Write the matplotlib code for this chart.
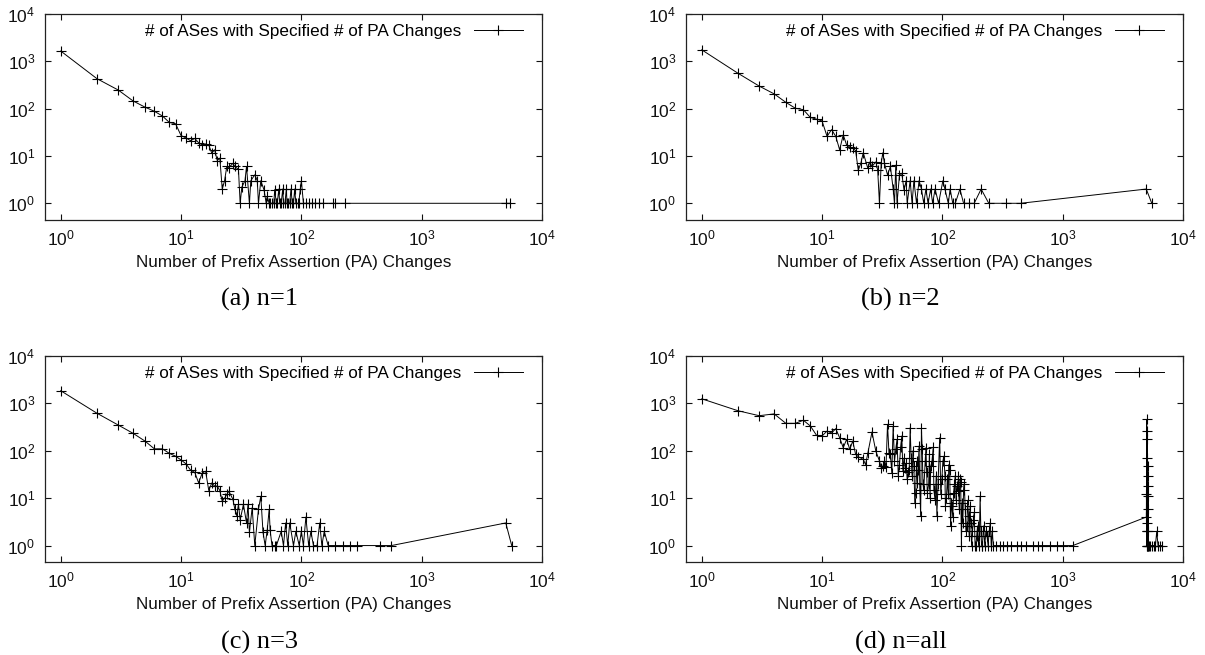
import matplotlib
matplotlib.use('Agg')
import matplotlib.pyplot as plt
from matplotlib.ticker import LogLocator, NullLocator

plt.rcParams['font.family'] = ['Liberation Sans', 'DejaVu Sans']

# ── datos (x = nº de cambios PA, y = nº de ASes) ───────────────────────────────
xa = [1, 2, 3, 4, 5, 6, 7, 8, 9, 10, 11, 12, 13, 14, 15, 16, 17, 18, 19, 20,
      21, 22, 23, 24, 25, 27, 28, 30, 31, 32, 34, 35, 37, 38, 41, 43, 44, 46, 49, 51,
      52, 54, 55, 57, 59, 60, 62, 63, 65, 66, 68, 70, 71, 73, 75, 76, 78, 80, 82, 84,
      86, 88, 90, 93, 95, 98, 100, 104, 109, 115, 122, 130, 141, 152, 182, 191, 231,
      5000, 5400]
ya = [1650, 430, 248, 145, 108, 88, 70, 51, 48, 27, 24, 21, 23.5, 19, 17, 18, 17, 11.5, 13.5, 8,
      9, 2, 3, 6, 5.7, 7, 6, 5.2, 1, 2.2, 3, 6, 1, 3, 4, 3, 1, 3, 1.9, 1,
      1.4, 1, 1, 1, 1, 1.9, 1, 1, 2, 1, 1, 2, 1, 1, 2, 1, 1, 1, 2, 1,
      1, 2, 1, 1, 1, 2, 3, 1, 1, 1, 1, 1, 1, 1, 1, 1, 1,
      1, 1]

xb = [1, 2, 3, 4, 5, 6, 7, 8, 9, 10, 11, 12, 13, 14, 15, 16, 17, 18, 19, 20,
      21, 22, 24, 25, 26, 28, 29, 30, 31, 32, 33, 35, 37, 39, 40, 41, 42, 44, 46, 48,
      50, 51, 54, 56, 58, 61, 64, 67, 70, 73, 76, 80, 83, 87, 93, 101, 105, 112, 116, 122,
      128, 140, 150, 168, 184, 210, 243, 336, 447, 4950, 5500]
yb = [1750, 560, 300, 205, 136, 102, 95, 65, 60, 55, 26, 36, 26, 13.5, 28, 17, 15.5, 14.5, 13, 5,
      7, 11.7, 5.5, 7.5, 6, 7.5, 5, 1, 7, 11.7, 7, 4, 6, 2, 1, 6.4, 1, 4, 4.3, 1.9,
      3, 1, 3, 1, 3, 1, 3, 2, 1, 2, 1, 2, 1, 2, 1, 3, 2, 1, 2, 1,
      1, 2, 1, 1, 1, 2, 1, 1, 1, 2, 1]

xc = [1, 2, 3, 4, 5, 6, 7, 8, 9, 10, 11, 12, 13, 14, 15, 16, 17, 18, 19, 20,
      21, 22, 23, 24, 25, 27, 28, 29, 30, 31, 33, 35, 36, 37, 39, 41, 44, 46, 48, 50,
      52, 54, 55, 57, 60, 62, 68, 71, 74, 77, 80, 86, 90, 96, 100, 104, 109, 115, 120, 126,
      135, 142, 148, 155, 167, 190, 220, 255, 290, 450, 560, 5000, 5600]
yc = [1850, 620, 350, 233, 161, 110, 110, 88, 77, 64, 53, 39, 35, 21, 34, 37, 14.5, 21, 18, 18,
      14.5, 8.6, 10, 12, 14, 9.4, 5.8, 4.3, 7.4, 3.5, 7.4, 3, 7.4, 1.9, 6.3, 1, 5.8, 11, 1.9, 1,
      2.1, 5.8, 2.1, 1, 1, 1, 2, 1, 3, 1, 3, 1, 2, 1, 2, 1, 4, 1, 2, 1,
      1, 3, 1, 2, 1, 1, 1, 1, 1, 1, 1, 3, 1]

xd = [1, 2, 3, 4, 5, 6, 7, 8, 9, 10, 11, 12, 13, 14, 15, 16, 17, 18, 19, 20,
      22, 23, 24, 26, 28, 30, 31, 32, 33, 35, 37, 38, 39, 41, 42, 44, 46, 47, 49, 51,
      54, 55, 58, 60, 62, 64, 66, 68, 70, 73, 75, 78, 80, 85, 90, 95, 99, 103, 106, 110,
      113, 117, 120, 124, 128, 132, 136, 140, 144, 150, 155, 160, 165, 170, 175, 181, 187, 193, 206, 212,
      220, 235, 250, 265, 280, 302, 320, 345, 370, 415, 450, 500, 571, 620, 670, 786, 893, 1000, 1214,
      4960, 4970, 4980, 4990, 5000, 5010, 5020, 5030, 5040, 5050, 5060, 5070, 5080, 5090, 5100, 5110, 5120, 5140, 5160, 5180,
      5300, 5500, 5700, 5900, 6050, 6200, 6400, 6660]
yd = [1250, 700, 550, 600, 380, 380, 440, 333, 212, 205, 261, 237, 293, 189, 116, 174, 107, 161, 84, 75,
      66, 51, 88, 249, 98, 61, 44, 47, 61, 362, 84, 34, 333, 107, 174, 51, 205, 37, 44, 25,
      307, 71, 47, 13, 21, 126, 4.2, 107, 15, 116, 13, 84, 47, 15, 4.2, 189, 25, 77, 6.8, 25,
      51, 2.6, 6.8, 13, 30, 18, 29, 25, 1, 15, 5.8, 2.6, 4.2, 6.8, 1, 3.5, 1, 1.6, 11, 1,
      2.6, 1.6, 3, 1, 1, 1, 1, 1, 1, 1, 1, 1, 1, 1, 1, 1, 1, 1, 1,
      4, 12, 2, 460, 1, 260, 3, 70, 1, 175, 2, 30, 1, 48, 6, 18, 1, 11, 2, 1,
      1, 1, 1, 1, 2, 1, 1, 1]
# puntos extra de la zona densa de (d)
xd_extra = [34, 36, 40, 43, 45, 48, 50, 52, 53, 56, 57, 59, 61, 63, 65, 67, 69, 72, 74, 77,
            79, 82, 84, 87, 89, 92, 97, 101, 105, 108, 112, 115, 119, 122, 126, 130, 134, 138, 142,
            146, 148, 152, 157, 162, 167, 172, 178, 184, 190, 196, 200, 203, 209, 215, 225, 230,
            240, 245, 255, 260]
yd_extra = [45, 90, 60, 30, 120, 70, 55, 35, 40, 30, 100, 8, 60, 40, 15, 300, 20, 60, 35, 20,
            10, 60, 120, 9, 30, 20, 12, 60, 30, 10, 12, 40, 8, 4, 20, 9, 14, 6, 22,
            8, 3, 20, 2, 9, 1.6, 3, 2, 5, 1, 2.6, 1, 1.6, 2, 1, 1, 2,
            1, 2, 1, 2]

captions = ['(a) n=1', '(b) n=2', '(c) n=3', '(d) n=all']
leyenda = '# of ASes with Specified # of PA Changes'
xlabel = 'Number of Prefix Assertion (PA) Changes'

pares_d = sorted(zip(xd + xd_extra, yd + yd_extra))
xd_all = [p[0] for p in pares_d]
yd_all = [p[1] for p in pares_d]

# ── figura ─────────────────────────────────────────────────────────────────────
W, H = 1205, 655
fig = plt.figure(figsize=(W / 100, H / 100), dpi=100)

# (x0, y_top, x1, y_bottom) en píxeles
cajas = [(45, 14, 542, 219.7), (686, 14, 1183, 219.7),
         (45, 356, 542, 562), (686, 356, 1183, 562)]
series = [(xa, ya), (xb, yb), (xc, yc), (xd_all, yd_all)]

for (x, y), (x0, y0, x1, y1), cap in zip(series, cajas, captions):
    ax = fig.add_axes([x0 / W, 1 - y1 / H, (x1 - x0) / W, (y1 - y0) / H])
    ax.plot(x, y, color='k', lw=0.7, marker='+', ms=6.5, mew=0.8, label=leyenda)
    ax.set_xscale('log')
    ax.set_yscale('log')
    ax.set_xlim(0.74, 1e4)
    ax.set_ylim(0.45, 1e4)
    for eje in (ax.xaxis, ax.yaxis):
        eje.set_major_locator(LogLocator(base=10, numticks=10))
        eje.set_minor_locator(NullLocator())
    ax.tick_params(which='major', direction='in', length=4.5, width=0.8,
                   top=True, right=True, labelsize=12.5, colors='#111111')
    ax.tick_params(axis='x', pad=6)
    ax.tick_params(axis='y', pad=7)
    for s in ax.spines.values():
        s.set_linewidth(0.9)
        s.set_color('#222222')
    ax.set_xlabel(xlabel, fontsize=12.3, labelpad=5, color='#111111')
    ax.legend(loc='upper right', bbox_to_anchor=(0.962, 0.95), frameon=False,
              markerfirst=False, handlelength=2.9, handletextpad=0.7,
              borderpad=0, borderaxespad=0, fontsize=12.3)
    fig.text((x0 + x1) / 2 / W - 34 / W, 1 - (y1 + 80) / H, cap,
             ha='center', va='center', fontsize=19, family='Liberation Serif')

fig.savefig('out.png', dpi=100)
